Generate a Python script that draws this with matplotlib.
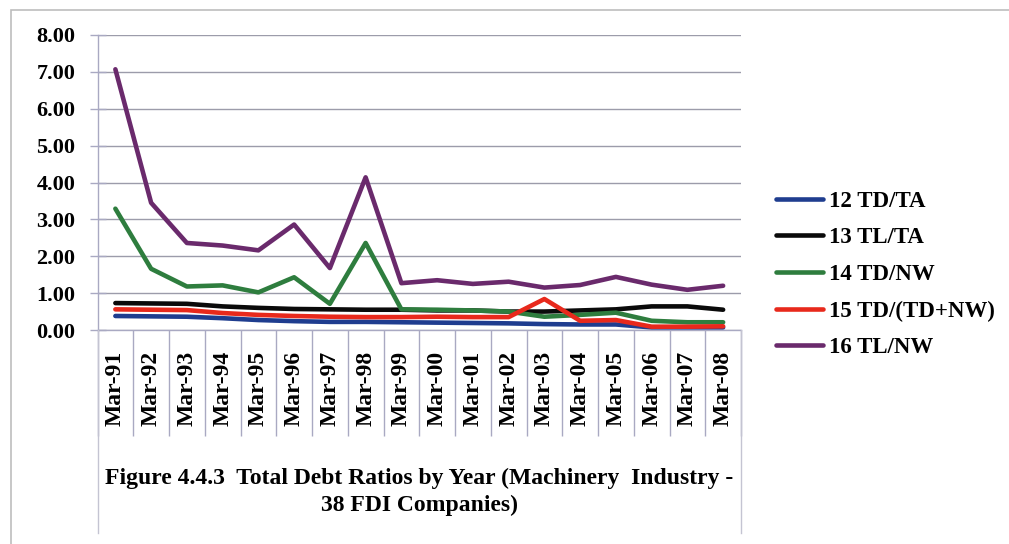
import matplotlib
matplotlib.use("Agg")
import matplotlib.pyplot as plt
from matplotlib.lines import Line2D
from matplotlib.patches import Rectangle

# Fiscal year-end labels
years = ["Mar-91", "Mar-92", "Mar-93", "Mar-94", "Mar-95", "Mar-96", "Mar-97",
         "Mar-98", "Mar-99", "Mar-00", "Mar-01", "Mar-02", "Mar-03", "Mar-04",
         "Mar-05", "Mar-06", "Mar-07", "Mar-08"]

# Debt ratio series
td_ta = [0.38, 0.37, 0.36, 0.32, 0.27, 0.24, 0.22, 0.22, 0.21, 0.20, 0.19, 0.18,
         0.16, 0.15, 0.15, 0.07, 0.07, 0.07]
tl_ta = [0.73, 0.72, 0.71, 0.64, 0.60, 0.57, 0.56, 0.55, 0.55, 0.53, 0.53, 0.50,
         0.50, 0.53, 0.56, 0.64, 0.64, 0.55]
td_nw = [3.29, 1.66, 1.18, 1.21, 1.02, 1.43, 0.71, 2.36, 0.56, 0.55, 0.53, 0.50,
         0.36, 0.41, 0.47, 0.25, 0.21, 0.21]
td_tdnw = [0.56, 0.55, 0.54, 0.46, 0.41, 0.38, 0.36, 0.35, 0.35, 0.36, 0.35, 0.35,
           0.84, 0.25, 0.27, 0.09, 0.09, 0.10]
tl_nw = [7.07, 3.45, 2.36, 2.29, 2.16, 2.86, 1.68, 4.14, 1.27, 1.35, 1.25, 1.31,
         1.15, 1.22, 1.44, 1.23, 1.09, 1.20]

series_names = ["12 TD/TA", "13 TL/TA", "14 TD/NW", "15 TD/(TD+NW)", "16 TL/NW"]
series_values = [td_ta, tl_ta, td_nw, td_tdnw, tl_nw]
series_colors = ["#1f3d8f", "#0a0a0a", "#2e7d3e", "#e8291c", "#6a2a6c"]

y_ticks = [0, 1, 2, 3, 4, 5, 6, 7, 8]

caption = ("Figure 4.4.3  Total Debt Ratios by Year (Machinery  Industry -\n"
           "38 FDI Companies)")

W, H = 1009, 544
fig = plt.figure(figsize=(W / 100, H / 100), dpi=100)
fig.patch.set_facecolor("white")

serif = ["Liberation Serif", "DejaVu Serif"]
FS = 16
FS_BIG = 17
FS_LEG = 16.5

# Plot area in pixel coordinates
px_left, px_right, px_top, px_bottom = 97.5, 741, 35, 330
ax = fig.add_axes([px_left / W, 1 - px_bottom / H,
                   (px_right - px_left) / W, (px_bottom - px_top) / H])

n = len(years)
xs = [i + 0.5 for i in range(n)]
for name, vals, col in zip(series_names, series_values, series_colors):
    ax.plot(xs, vals, color=col, lw=3.3, label=name, solid_capstyle="round",
            solid_joinstyle="round")

ax.set_xlim(0, n)
ax.set_ylim(0, 8)

grid_col = "#9c9caa"
axis_col = "#a9a9c2"
ax.set_yticks(y_ticks)
ax.set_yticklabels([f"{v:.2f}" for v in y_ticks], fontsize=FS,
                   fontweight="bold", family=serif)
ax.yaxis.grid(True, color=grid_col, lw=1.0)
ax.set_axisbelow(True)
ax.tick_params(axis="y", direction="inout", length=12, width=1, color=axis_col,
               pad=10)

# Category boundaries as long tick marks, labels at category centres
ax.set_xticks(range(n + 1))
ax.set_xticklabels([])
ax.tick_params(axis="x", which="major", direction="out", length=76, width=1,
               color=axis_col)
ax.set_xticks(xs, minor=True)
ax.set_xticklabels(years, minor=True, rotation=90, fontsize=FS_BIG,
                   fontweight="bold", family=serif)
ax.tick_params(axis="x", which="minor", length=0, pad=15)

for side in ["top", "right"]:
    ax.spines[side].set_visible(False)
for side in ["left", "bottom"]:
    ax.spines[side].set_color(axis_col)
    ax.spines[side].set_linewidth(1)

# Caption box side borders
for xpx in (px_left, px_right):
    fig.add_artist(Line2D([xpx / W, xpx / W], [1 - 330 / H, 1 - 533 / H],
                          color="#c4c4d2", lw=1, transform=fig.transFigure))

# Outer chart border
fig.add_artist(Rectangle((10.5 / W, -0.1), 1.2, 1 - 9.5 / H + 0.1,
                         transform=fig.transFigure, fill=False,
                         edgecolor="#bdbdbd", lw=1.2))

fig.text((px_left + px_right) / 2 / W, 1 - 492 / H, caption, ha="center",
         va="center", fontsize=FS_BIG, fontweight="bold", family=serif,
         linespacing=1.38)

leg = fig.legend(loc="center left", bbox_to_anchor=(776 / W, 1 - 274.5 / H),
                 frameon=False, handlelength=2.05, handletextpad=0.25,
                 labelspacing=0.68, borderpad=0, borderaxespad=0,
                 prop={"family": serif, "weight": "bold", "size": FS_LEG})

fig.savefig("out.png", dpi=100)
